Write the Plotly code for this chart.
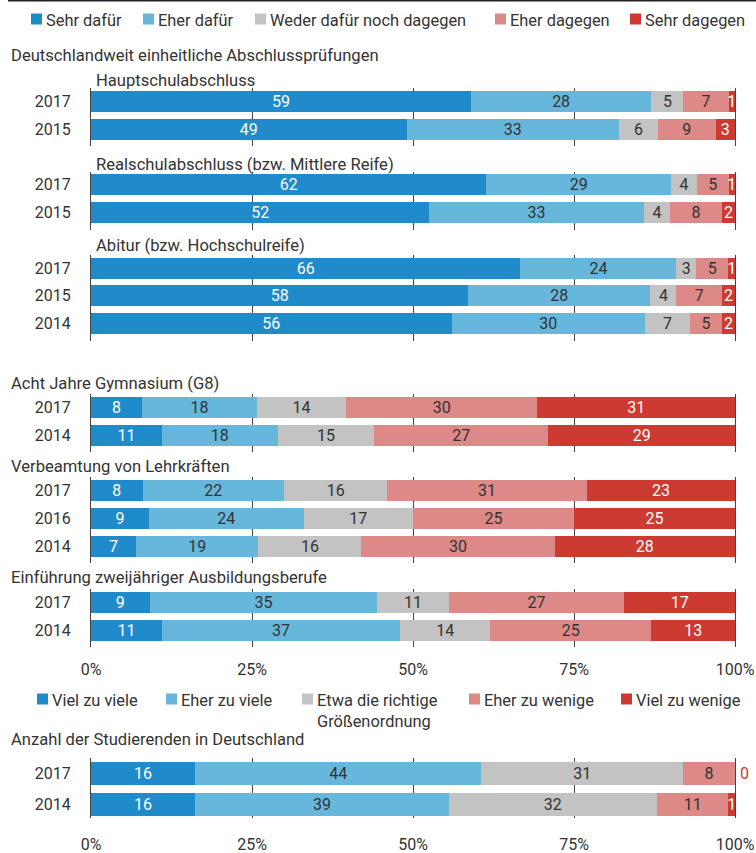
import plotly.graph_objects as go

# Antwortkategorien und Farben
answers_top = ["Sehr dafür", "Eher dafür", "Weder dafür noch dagegen", "Eher dagegen", "Sehr dagegen"]
answers_bottom = ["Viel zu viele", "Eher zu viele", "Etwa die richtige<br>Größenordnung",
                  "Eher zu wenige", "Viel zu wenige"]
colors = ["#1f8bca", "#67b7dc", "#c2c3c2", "#dd8987", "#cc3a32"]
text_colors = ["white", "#333333", "#333333", "#333333", "white"]

# Werte je Gruppe, eine Zeile pro Jahr
haupt_years = ["2017", "2015"]
haupt = [[59, 28, 5, 7, 1], [49, 33, 6, 9, 3]]

real_years = ["2017", "2015"]
real = [[62, 29, 4, 5, 1], [52, 33, 4, 8, 2]]

abitur_years = ["2017", "2015", "2014"]
abitur = [[66, 24, 3, 5, 1], [58, 28, 4, 7, 2], [56, 30, 7, 5, 2]]

g8_years = ["2017", "2014"]
g8 = [[8, 18, 14, 30, 31], [11, 18, 15, 27, 29]]

verb_years = ["2017", "2016", "2014"]
verb = [[8, 22, 16, 31, 23], [9, 24, 17, 25, 25], [7, 19, 16, 30, 28]]

ausb_years = ["2017", "2014"]
ausb = [[9, 35, 11, 27, 17], [11, 37, 14, 25, 13]]

stud_years = ["2017", "2014"]
stud = [[16, 44, 31, 8, 0], [16, 39, 32, 11, 1]]

tick_vals = [0, 25, 50, 75, 100]
tick_text = ["0%", "25%", "50%", "75%", "100%"]

W, H = 756, 853
ML, MR = 91, 21
FONT = "Roboto"
DARK = "#333333"
LINE = "#444444"

# (titel, titel-x, titel-y, jahre, werte, erste zeile px, zeilenabstand px)
groups = [
    ("Hauptschulabschluss", 94, 80, haupt_years, haupt, 101, 28),
    ("Realschulabschluss (bzw. Mittlere Reife)", 94, 164, real_years, real, 184.5, 28),
    ("Abitur (bzw. Hochschulreife)", 94, 246, abitur_years, abitur, 268, 27.8),
    ("Acht Jahre Gymnasium (G8)", 9, 383, g8_years, g8, 407, 28),
    ("Verbeamtung von Lehrkräften", 9, 467, verb_years, verb, 490, 28),
    ("Einführung zweijähriger Ausbildungsberufe", 9, 577, ausb_years, ausb, 602, 28),
    ("Anzahl der Studierenden in Deutschland", 9, 739, stud_years, stud, 773, 31),
]


def fy(px):
    return 1 - px / H


def fx(px):
    return (px - ML) / (W - ML - MR)


fig = go.Figure()
annotations = []
shapes = []

for gi, (title, tx, ty, years, rows, first_px, pitch) in enumerate(groups):
    n = len(years)
    idx = gi + 1
    xa = "x" if idx == 1 else f"x{idx}"
    ya = "y" if idx == 1 else f"y{idx}"
    bottom_group = gi == len(groups) - 1
    names = answers_bottom if bottom_group else answers_top

    for si in range(5):
        vals = [r[si] for r in rows]
        fig.add_trace(go.Bar(
            x=vals, y=years, orientation="h", name=names[si],
            xaxis=xa, yaxis=ya, width=(23 if bottom_group else 21) / pitch,
            marker=dict(color=colors[si], line=dict(width=0)),
            text=[str(v) if v > 0 else "" for v in vals], textposition="inside",
            insidetextanchor="middle", textangle=0, constraintext="none",
            insidetextfont=dict(family=FONT, size=16, color=text_colors[si]),
            showlegend=False, hoverinfo="skip",
        ))
        # Nullwerte rechts neben dem Balken beschriften
        # (Kategorie-Achse: Annotation braucht den Index der Kategorie)
        for ri, v in enumerate(vals):
            if v == 0:
                annotations.append(dict(
                    text=str(v), xref="paper", yref=ya, x=1, y=ri,
                    xanchor="left", yanchor="middle", xshift=3, showarrow=False,
                    font=dict(family=FONT, size=16, color=colors[si]),
                ))

    above = 15 if bottom_group else 13
    below = 14 if bottom_group else 17
    top_px = first_px - above
    bot_px = first_px + (n - 1) * pitch + below
    show_x = gi in (5, 6)
    fig.layout["xaxis" if idx == 1 else f"xaxis{idx}"] = dict(
        domain=[0, 1], anchor=ya, range=[0, 100],
        tickvals=tick_vals, ticktext=tick_text, showticklabels=show_x,
        showgrid=True, gridcolor=LINE, gridwidth=1, zeroline=False,
        showline=False, ticks="", ticklabelstandoff=15 if bottom_group else 11,
        automargin=False,
        tickfont=dict(family=FONT, size=16, color=DARK), fixedrange=True,
    )
    fig.layout["yaxis" if idx == 1 else f"yaxis{idx}"] = dict(
        domain=[fy(bot_px), fy(top_px)], anchor=xa, type="category",
        categoryorder="array", categoryarray=years,
        range=[n - 1 + below / pitch, -above / pitch],
        showgrid=False, zeroline=False, showline=True, mirror=True,
        linecolor=LINE, linewidth=1, ticks="", ticklabelstandoff=16,
        automargin=False,
        tickfont=dict(family=FONT, size=16, color=DARK), fixedrange=True,
    )
    annotations.append(dict(
        text=title, xref="paper", yref="paper", x=fx(tx), y=fy(ty),
        xanchor="left", yanchor="middle", showarrow=False,
        font=dict(family=FONT, size=16.6, color=DARK),
    ))

annotations.append(dict(
    text="Deutschlandweit einheitliche Abschlussprüfungen", xref="paper", yref="paper",
    x=fx(9), y=fy(55), xanchor="left", yanchor="middle", showarrow=False,
    font=dict(family=FONT, size=16.6, color=DARK),
))

# Legenden: Farbfeld + Text
legend_top_x = [46, 158, 270, 510, 645]
legend_bottom_x = [52, 181, 317, 484, 636]
for names, xs, cy in ((answers_top, legend_top_x, 19), (answers_bottom, legend_bottom_x, 699)):
    for name, x, c in zip(names, xs, colors):
        shapes.append(dict(
            type="rect", xref="paper", yref="paper",
            x0=fx(x - 15), x1=fx(x - 4), y0=fy(cy + 5.5), y1=fy(cy - 5.5),
            fillcolor=c, line=dict(width=0),
        ))
        annotations.append(dict(
            text=name, xref="paper", yref="paper", x=fx(x - 2), y=fy(cy - 10),
            xanchor="left", yanchor="top", align="left", showarrow=False,
            font=dict(family=FONT, size=16.4, color=DARK),
        ))

# dunkle Linie am oberen Rand
shapes.append(dict(type="line", xref="paper", yref="paper",
                   x0=fx(8), x1=fx(W), y0=fy(0.5), y1=fy(0.5),
                   line=dict(color="#222222", width=2)))

fig.update_layout(
    width=W, height=H,
    margin=dict(l=ML, r=MR, t=0, b=0),
    paper_bgcolor="white", plot_bgcolor="white",
    barmode="stack", barnorm="percent",
    font=dict(family=FONT, size=16, color=DARK),
    annotations=annotations, shapes=shapes, showlegend=False,
)

fig.write_html("out.html", config={"displayModeBar": False},
               post_script="document.body.style.margin = '0';")
